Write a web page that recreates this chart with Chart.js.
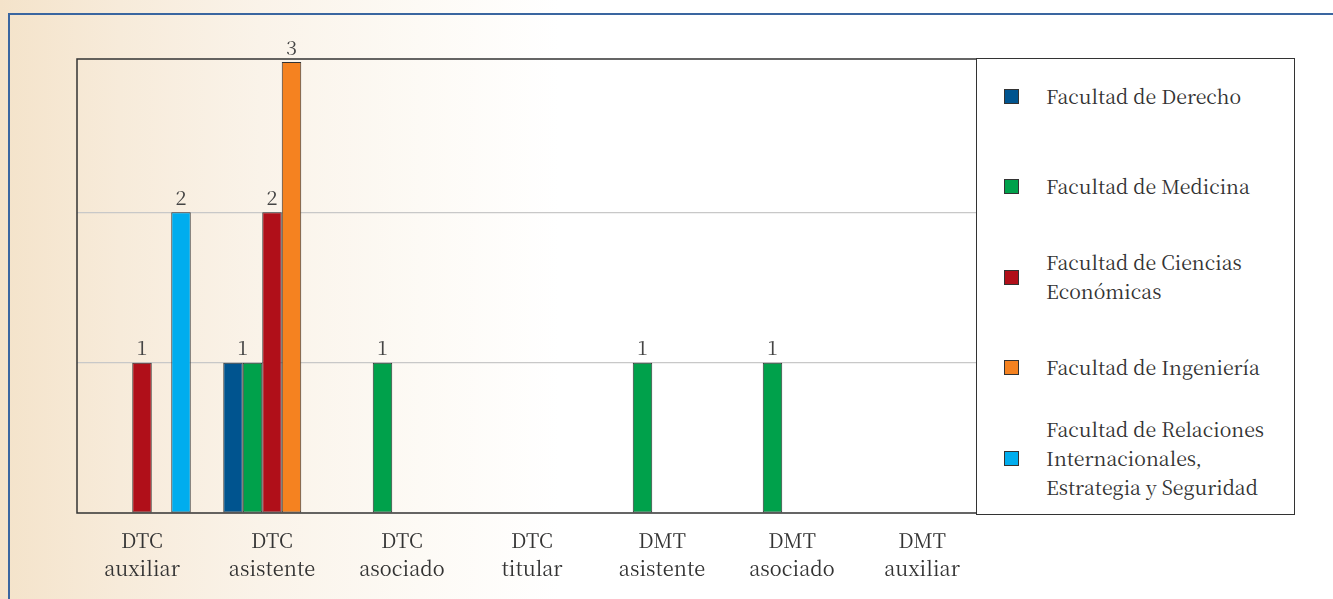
<!DOCTYPE html>
<html>
<head>
<meta charset="utf-8">
<script src="https://cdn.jsdelivr.net/npm/chart.js@4.4.0/dist/chart.umd.min.js"></script>
<style>
  html, body { margin: 0; padding: 0; }
  body {
    width: 1333px; height: 599px; overflow: hidden; position: relative;
    background: linear-gradient(to right, #f4e3ca 0px, #f7ebda 120px, #faf3e9 260px, #fdfaf5 420px, #ffffff 560px);
    font-family: "Noto Serif CJK SC", "Liberation Serif", serif;
  }
  #frame {
    position: absolute; left: 8px; top: 13px; right: -4px; bottom: -4px;
    border-top: 2px solid #3a66a0; border-left: 2px solid #3a66a0;
  }
  #wrap { position: absolute; left: 0; top: 0; width: 1333px; height: 599px; }
  #legend {
    position: absolute; left: 976px; top: 58px; width: 319px; height: 457px;
    border: 1.5px solid #333; background: #fff; box-sizing: border-box;
  }
  #legend ul { list-style: none; margin: -8px 0 0 0; padding: 0; }
  #legend li { height: 90.5px; display: flex; align-items: center; }
  #legend .sw { width: 13px; height: 13px; border: 1.5px solid #333; margin-left: 27px; margin-right: 27px; flex: none; }
  #legend .tx { font-size: 19.5px; line-height: 29px; color: #333; }
</style>
</head>
<body>
<div id="frame"></div>
<div id="wrap"><canvas id="chart" width="1333" height="599"></canvas></div>
<div id="legend"><ul id="legendList"></ul></div>
<script>
const categories = [
  ['DTC', 'auxiliar'], ['DTC', 'asistente'], ['DTC', 'asociado'], ['DTC', 'titular'],
  ['DMT', 'asistente'], ['DMT', 'asociado'], ['DMT', 'auxiliar']
];
const seriesNames = [
  ['Facultad de Derecho'],
  ['Facultad de Medicina'],
  ['Facultad de Ciencias', 'Económicas'],
  ['Facultad de Ingeniería'],
  ['Facultad de Relaciones', 'Internacionales,', 'Estrategia y Seguridad']
];
const derecho    = [0, 1, 0, 0, 0, 0, 0];
const medicina   = [0, 1, 1, 0, 1, 1, 0];
const economicas = [1, 2, 0, 0, 0, 0, 0];
const ingenieria = [0, 3, 0, 0, 0, 0, 0];
const relaciones = [2, 0, 0, 0, 0, 0, 0];
const colors = ['#00548f', '#00a14b', '#b00f19', '#f58220', '#00adee'];

const seriesValues = [derecho, medicina, economicas, ingenieria, relaciones];
const serif = '"Noto Serif CJK SC", "Liberation Serif", serif';

// legend (html, so labels can wrap on several lines)
const list = document.getElementById('legendList');
seriesNames.forEach((name, i) => {
  const li = document.createElement('li');
  li.innerHTML = '<span class="sw" style="background:' + colors[i] + '"></span><span class="tx">' + name.join('<br>') + '</span>';
  list.appendChild(li);
});

// value labels; neighbouring bars with the same value share one label
const valueLabels = {
  id: 'valueLabels',
  afterDatasetsDraw(chart) {
    const ctx = chart.ctx;
    ctx.save();
    ctx.font = '20px ' + serif;
    ctx.fillStyle = '#444';
    ctx.textAlign = 'center';
    ctx.textBaseline = 'bottom';
    const n = chart.data.labels.length;
    for (let j = 0; j < n; j++) {
      let run = [];
      const flush = () => {
        if (!run.length) return;
        const x = run.reduce((s, b) => s + b.x, 0) / run.length;
        ctx.fillText(run[0].v, x, run[0].y - 5);
        run = [];
      };
      chart.data.datasets.forEach((ds, i) => {
        const v = ds.data[j];
        const bar = chart.getDatasetMeta(i).data[j];
        if (!v) { flush(); return; }
        if (run.length && run[0].v !== v) flush();
        run.push({ v: v, x: bar.x, y: bar.y });
      });
      flush();
    }
    ctx.restore();
  }
};

// left, top and bottom edges of the plot; the legend box closes it on the right
const plotBox = {
  id: 'plotBox',
  afterDraw(chart) {
    const a = chart.chartArea;
    const ctx = chart.ctx;
    ctx.save();
    ctx.strokeStyle = '#333';
    ctx.lineWidth = 1.5;
    ctx.beginPath();
    ctx.moveTo(a.right, a.top);
    ctx.lineTo(a.left, a.top);
    ctx.lineTo(a.left, a.bottom);
    ctx.lineTo(a.right, a.bottom);
    ctx.stroke();
    ctx.restore();
  }
};

new Chart(document.getElementById('chart').getContext('2d'), {
  type: 'bar',
  data: {
    labels: categories,
    datasets: seriesValues.map((vals, i) => ({
      label: seriesNames[i].join(' '),
      data: vals,
      backgroundColor: colors[i],
      borderColor: '#333',
      borderWidth: c => (c.raw ? 1 : 0),
      borderSkipped: false,
      categoryPercentage: 0.75,
      barPercentage: 1.0
    }))
  },
  options: {
    responsive: false,
    animation: false,
    layout: { padding: { top: 59, right: 346, left: 0, bottom: 0 } },
    plugins: {
      legend: { display: false },
      tooltip: { enabled: false }
    },
    scales: {
      x: {
        grid: { display: false },
        border: { display: false },
        ticks: {
          color: '#333',
          font: { family: serif, size: 20, lineHeight: 1.4 },
          padding: 5,
          maxRotation: 0
        },
        afterFit: s => { s.height = 86; }
      },
      y: {
        min: 0,
        max: 3.02,
        ticks: { display: false, stepSize: 1 },
        border: { display: false },
        grid: {
          drawTicks: false,
          color: c => (c.tick.value === 1 || c.tick.value === 2 ? '#c8c8c8' : 'rgba(0,0,0,0)'),
          lineWidth: 1.2
        },
        afterFit: s => { s.width = 77; }
      }
    }
  },
  plugins: [valueLabels, plotBox]
});
</script>
</body>
</html>
